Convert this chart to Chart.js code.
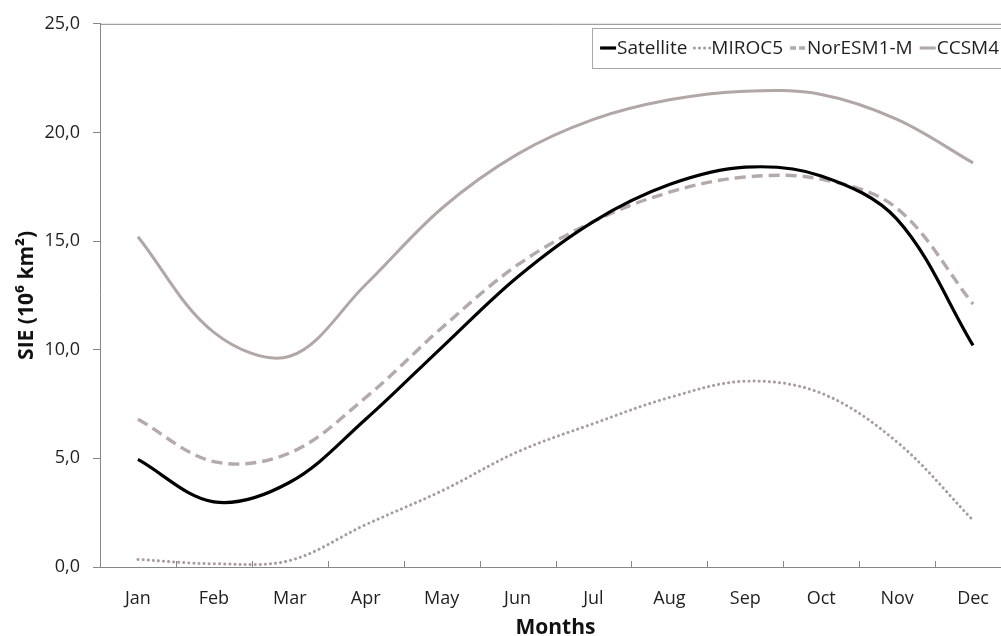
<!DOCTYPE html>
<html lang="en">
<head>
  <meta charset="utf-8">
  <title>SIE</title>
  <script src="https://cdn.jsdelivr.net/npm/chart.js@4.4.1/dist/chart.umd.min.js"></script>
  <style>
    html, body { margin: 0; padding: 0; background: #fff; overflow: hidden; }
    #wrap { width: 1012px; height: 636px; }
  </style>
</head>
<body>
  <div id="wrap">
    <canvas id="chart-sie" width="1012" height="636"></canvas>
  </div>
  <script>
    // monthly sea ice extent, 10^6 km2
    var months = ["Jan", "Feb", "Mar", "Apr", "May", "Jun", "Jul", "Aug", "Sep", "Oct", "Nov", "Dec"];
    var satellite = [4.95, 3.0, 3.9, 6.8, 10.1, 13.35, 15.9, 17.6, 18.4, 18.0, 16.0, 10.2];
    var miroc5 = [0.35, 0.15, 0.3, 1.95, 3.5, 5.3, 6.6, 7.8, 8.55, 8.0, 5.75, 2.15];
    var noresm = [6.8, 4.85, 5.25, 7.8, 11.0, 13.9, 15.9, 17.25, 17.95, 17.85, 16.5, 12.1];
    var ccsm4 = [15.2, 10.8, 9.7, 13.0, 16.5, 19.0, 20.6, 21.5, 21.9, 21.75, 20.6, 18.6];
    var yTicks = [0, 5, 10, 15, 20, 25];

    var FONT = "'Open Sans', 'Noto Sans', sans-serif";
    var axisColor = '#878787';
    var textColor = '#1f1f1f';

    // frame top edge + tick marks pointing into the plot + legend box
    var framePlugin = {
      id: 'frame',
      afterDraw: function (chart) {
        var ctx = chart.ctx;
        var a = chart.chartArea;
        var xs = chart.scales.x;
        ctx.save();
        ctx.strokeStyle = axisColor;
        ctx.lineWidth = 1;
        ctx.beginPath();
        ctx.moveTo(a.left, a.top + 0.5);
        ctx.lineTo(a.right, a.top + 0.5);
        ctx.moveTo(a.right - 0.5, a.top);
        ctx.lineTo(a.right - 0.5, a.bottom);
        var band = xs.width / months.length;
        for (var i = 1; i <= months.length; i++) {
          var x = Math.round(xs.left + i * band) + 0.5;
          ctx.moveTo(x, a.bottom);
          ctx.lineTo(x, a.bottom - 6);
        }
        ctx.stroke();

        // legend
        ctx.font = '19px ' + FONT;
        ctx.textBaseline = 'middle';
        var sample = 17, gapIn = 1, gapOut = 6;
        var sets = chart.data.datasets;
        var total = 0;
        sets.forEach(function (ds, k) {
          total += sample + gapIn + ctx.measureText(ds.label).width + (k < sets.length - 1 ? gapOut : 0);
        });
        var endX = a.right - 12;
        var startX = endX - total;
        var boxTop = 28, boxH = 40, cy = boxTop + boxH / 2;
        ctx.fillStyle = '#fff';
        ctx.fillRect(startX - 7, boxTop, a.right - 5 - (startX - 7), boxH);
        ctx.strokeStyle = '#a6a6a6';
        ctx.strokeRect(startX - 7 + 0.5, boxTop + 0.5, a.right - 5 - (startX - 7), boxH);
        var x = startX;
        sets.forEach(function (ds) {
          ctx.save();
          ctx.strokeStyle = ds.borderColor;
          ctx.lineWidth = ds.borderWidth;
          ctx.lineCap = ds.borderCapStyle || 'butt';
          ctx.setLineDash(ds.legendDash || []);
          ctx.beginPath();
          ctx.moveTo(x + 1, cy);
          ctx.lineTo(x + sample, cy);
          ctx.stroke();
          ctx.restore();
          x += sample + gapIn;
          ctx.fillStyle = textColor;
          ctx.fillText(ds.label, x, cy + 1);
          x += ctx.measureText(ds.label).width + gapOut;
        });
        ctx.restore();
      }
    };

    new Chart(document.getElementById('chart-sie'), {
      type: 'line',
      data: {
        labels: months,
        datasets: [{
          label: 'Satellite',
          data: satellite,
          borderColor: '#000000',
          borderWidth: 3.2
        }, {
          label: 'MIROC5',
          data: miroc5,
          borderColor: '#a89d9b',
          borderWidth: 3,
          borderDash: [0.1, 5],
          borderCapStyle: 'round',
          legendDash: [0.1, 5]
        }, {
          label: 'NorESM1-M',
          data: noresm,
          borderColor: '#b3aaa9',
          borderWidth: 3.4,
          borderDash: [11, 6],
          legendDash: [6, 3]
        }, {
          label: 'CCSM4',
          data: ccsm4,
          borderColor: '#b1a7a6',
          borderWidth: 3
        }]
      },
      options: {
        responsive: false,
        animation: false,
        devicePixelRatio: 1,
        layout: { padding: { top: 21, right: 1, left: 0, bottom: 0 } },
        elements: {
          point: { radius: 0 },
          line: { tension: 0.35, fill: false }
        },
        plugins: {
          legend: { display: false },
          tooltip: { enabled: false }
        },
        scales: {
          x: {
            type: 'category',
            offset: true,
            afterFit: function (s) { s.height = 69; },
            grid: { offset: true, drawOnChartArea: false, drawTicks: false },
            border: { display: true, color: axisColor, width: 1 },
            ticks: { font: { family: FONT, size: 18 }, color: textColor, padding: 21, maxRotation: 0 },
            title: {
              display: true,
              text: 'Months',
              font: { family: FONT, size: 21, weight: 'bold', lineHeight: 0.8 },
              color: '#111',
              padding: { top: 0, bottom: 0 }
            }
          },
          y: {
            min: 0,
            max: 25,
            afterFit: function (s) { s.width = 100; },
            afterBuildTicks: function (s) { s.ticks = yTicks.map(function (v) { return { value: v }; }); },
            grid: { drawOnChartArea: false, drawTicks: true, tickLength: 7, color: axisColor },
            border: { display: true, color: axisColor, width: 1 },
            ticks: {
              font: { family: FONT, size: 18 },
              color: textColor,
              padding: 13,
              callback: function (v) { return v.toFixed(1).replace('.', ','); }
            },
            title: {
              display: true,
              text: 'SIE (10⁶ km²)',
              font: { family: FONT, size: 21, weight: 'bold', lineHeight: 1.2 },
              color: '#111',
              padding: { top: 14, bottom: 0 }
            }
          }
        }
      },
      plugins: [framePlugin]
    });
  </script>
</body>
</html>
